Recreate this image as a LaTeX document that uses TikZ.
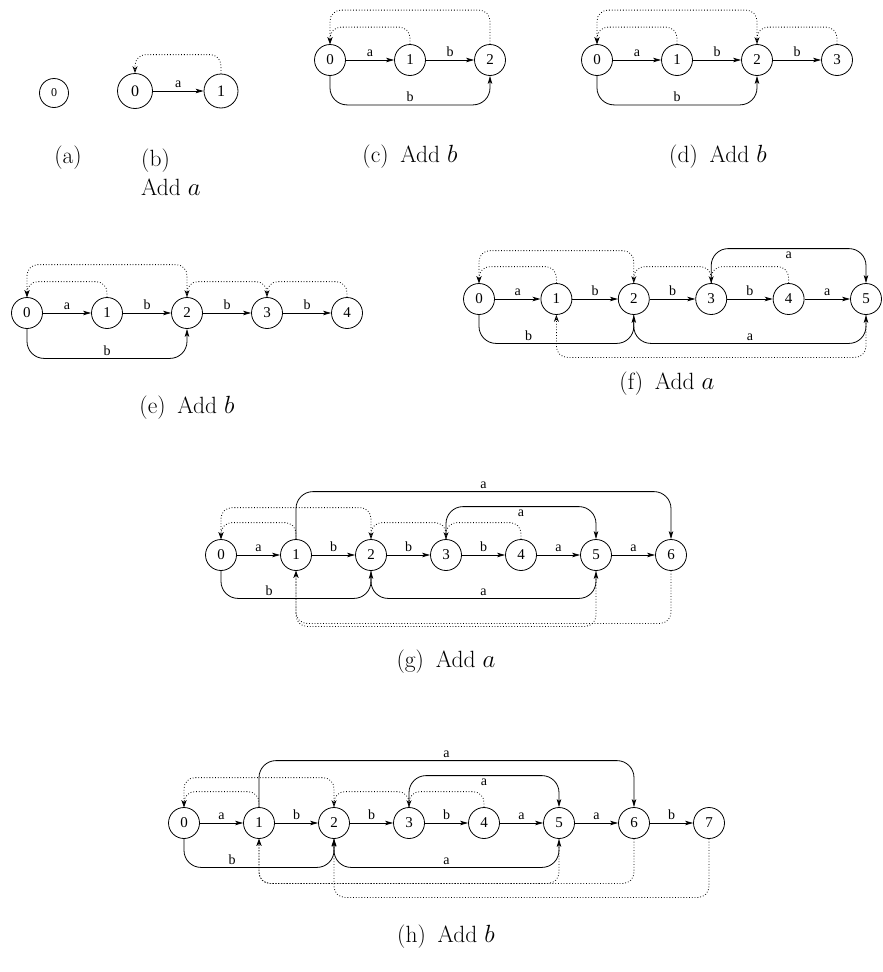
\documentclass[tikz,border=0pt]{standalone}
\usepackage{fontspec}
\usepackage{amsmath}
\usetikzlibrary{arrows.meta,positioning}
\newfontfamily\figfont{Liberation Serif}

\begin{document}
\begin{tikzpicture}[x=1pt, y=-1pt, node distance=75pt,
    state/.style={circle, draw, line width=0.8pt, minimum size=31pt, inner sep=0pt, font=\figfont\fontsize{15}{15}\selectfont},
    lab/.style={font=\figfont\fontsize{14}{14}\selectfont, inner sep=2.5pt},
    line/.style={draw, line width=0.8pt, rounded corners=17pt, -{Stealth[length=8pt, width=4.5pt, inset=2pt]}},
    link/.style={draw, dotted, line width=0.8pt, rounded corners=11pt, -{Stealth[open, length=7pt, width=5pt]}},
    caption/.style={font=\fontsize{23.5}{29}\selectfont, inner sep=0pt}]

    \useasboundingbox (0,0) rectangle (883,972);

    % (a) empty oracle
    \node [state, minimum size=29pt, font=\figfont\fontsize{12}{12}\selectfont] (a0) at (54,93) {0};
    \node [caption] (acap) at (68,158) {(a)};

    % (b) Add a
    \node [state, minimum size=35pt, font=\figfont\fontsize{16}{16}\selectfont] (b0) at (135,91) {0};
    \node [state, minimum size=34pt, font=\figfont\fontsize{16}{16}\selectfont, right of=b0, node distance=86pt] (b1) {1};
    \path [line] (b0) -- node [lab, above] {a} (b1);
    \path [link] (b1.north) -- ++(0,-19) -| (b0.north);
    \node [caption, align=left, anchor=west] (bcap) at (141,172) {(b)\\Add $a$};

    % (c) Add b
    \begin{scope}[node distance=80pt]
    \node [state] (c0) at (330,60) {0};
    \node [state, right of=c0] (c1) {1};
    \node [state, right of=c1] (c2) {2};
    \path [line] (c0) -- node [lab, above] {a} (c1);
    \path [line] (c1) -- node [lab, above] {b} (c2);
    \path [line] (c0.south) -- ++(0,29) -| node [lab, above, pos=0.25] {b} (c2.south);
    \path [link] (c1.north) -- ++(0,-17) -| (c0.north);
    \path [link] (c2.north) -- ++(0,-34) -| (c0.north);
    \node [caption] (ccap) at (410,157) {(c)\hspace{0.5em}Add~$b$};
    \end{scope}

    % (d) Add b
    \begin{scope}[node distance=80pt]
    \node [state] (d0) at (597,60) {0};
    \node [state, right of=d0] (d1) {1};
    \node [state, right of=d1] (d2) {2};
    \node [state, right of=d2] (d3) {3};
    \path [line] (d0) -- node [lab, above] {a} (d1);
    \path [line] (d1) -- node [lab, above] {b} (d2);
    \path [line] (d2) -- node [lab, above] {b} (d3);
    \path [line] (d0.south) -- ++(0,29) -| node [lab, above, pos=0.25] {b} (d2.south);
    \path [link] (d1.north) -- ++(0,-17) -| (d0.north);
    \path [link] (d2.north) -- ++(0,-34) -| (d0.north);
    \path [link] (d3.north) -- ++(0,-17) -| (d2.north);
    \node [caption] (dcap) at (718,157) {(d)\hspace{0.5em}Add~$b$};
    \end{scope}

    % (e) Add b
    \begin{scope}[node distance=80pt]
    \node [state] (e0) at (27,313) {0};
    \node [state, right of=e0] (e1) {1};
    \node [state, right of=e1] (e2) {2};
    \node [state, right of=e2] (e3) {3};
    \node [state, right of=e3] (e4) {4};
    \path [line] (e0) -- node [lab, above] {a} (e1);
    \path [line] (e1) -- node [lab, above] {b} (e2);
    \path [line] (e2) -- node [lab, above] {b} (e3);
    \path [line] (e3) -- node [lab, above] {b} (e4);
    \path [line] (e0.south) -- ++(0,29.5) -| node [lab, above, pos=0.25] {b} (e2.south);
    \path [link] (e1.north) -- ++(0,-15.5) -| (e0.north);
    \path [link] (e2.north) -- ++(0,-32.5) -| (e0.north);
    \path [link] (e3.north) -- ++(0,-15.5) -| (e2.north);
    \path [link] (e4.north) -- ++(0,-15.5) -| (e3.north);
    \node [caption] (ecap) at (187,408) {(e)\hspace{0.5em}Add~$b$};
    \end{scope}

    % (f) Add a
    \begin{scope}[node distance=77.4pt]
    \node [state] (f0) at (479,299) {0};
    \node [state, right of=f0] (f1) {1};
    \node [state, right of=f1] (f2) {2};
    \node [state, right of=f2] (f3) {3};
    \node [state, right of=f3] (f4) {4};
    \node [state, right of=f4] (f5) {5};
    \path [line] (f0) -- node [lab, above] {a} (f1);
    \path [line] (f1) -- node [lab, above] {b} (f2);
    \path [line] (f2) -- node [lab, above] {b} (f3);
    \path [line] (f3) -- node [lab, above] {b} (f4);
    \path [line] (f4) -- node [lab, above] {a} (f5);
    \path [line] (f0.south) -- ++(0,28.5) -| node [lab, above, pos=0.16] {b} (f2.south);
    \path [line] (f2.south) -- ++(0,28.5) -| node [lab, above, pos=0.25] {a} (f5.south);
    \path [line] (f3.north) -- ++(0,-34.5) -| node [lab, below, pos=0.25] {a} (f5.north);
    \path [link] (f1.north) -- ++(0,-16.5) -| (f0.north);
    \path [link] (f2.north) -- ++(0,-32.5) -| (f0.north);
    \path [link] (f3.north) -- ++(0,-16.5) -| (f2.north);
    \path [link] (f4.north) -- ++(0,-16.5) -| (f3.north);
    \path [link] (f5.south) -- ++(0,42.5) -| (f1.south);
    \node [caption] (fcap) at (667,384) {(f)\hspace{0.5em}Add~$a$};
    \end{scope}

    % (g) Add a
    \node [state] (g0) at (221,555) {0};
    \node [state, right of=g0] (g1) {1};
    \node [state, right of=g1] (g2) {2};
    \node [state, right of=g2] (g3) {3};
    \node [state, right of=g3] (g4) {4};
    \node [state, right of=g4] (g5) {5};
    \node [state, right of=g5] (g6) {6};
    \path [line] (g0) -- node [lab, above] {a} (g1);
    \path [line] (g1) -- node [lab, above] {b} (g2);
    \path [line] (g2) -- node [lab, above] {b} (g3);
    \path [line] (g3) -- node [lab, above] {b} (g4);
    \path [line] (g4) -- node [lab, above] {a} (g5);
    \path [line] (g5) -- node [lab, above] {a} (g6);
    \path [line] (g0.south) -- ++(0,27.5) -| node [lab, above, pos=0.16] {b} (g2.south);
    \path [line] (g2.south) -- ++(0,27.5) -| node [lab, above, pos=0.25] {a} (g5.south);
    \path [line] (g3.north) -- ++(0,-32.5) -| node [lab, below, pos=0.25] {a} (g5.north);
    \path [line] (g1.north) -- ++(0,-47.5) -| node [lab, above, pos=0.25] {a} (g6.north);
    \path [link] (g1.north) -- ++(0,-16.5) -| (g0.north);
    \path [link] (g2.north) -- ++(0,-31.5) -| (g0.north);
    \path [link] (g3.north) -- ++(0,-16.5) -| (g2.north);
    \path [link] (g4.north) -- ++(0,-16.5) -| (g3.north);
    \path [link] (g5.south) -- ++(0,55.5) -| (g1.south);
    \path [link] (g6.south) -- ++(0,52.5) -| (g1.south);
    \node [caption] (gcap) at (446,662) {(g)\hspace{0.5em}Add~$a$};

    % (h) Add b
    \node [state] (h0) at (184,823) {0};
    \node [state, right of=h0] (h1) {1};
    \node [state, right of=h1] (h2) {2};
    \node [state, right of=h2] (h3) {3};
    \node [state, right of=h3] (h4) {4};
    \node [state, right of=h4] (h5) {5};
    \node [state, right of=h5] (h6) {6};
    \node [state, right of=h6] (h7) {7};
    \path [line] (h0) -- node [lab, above] {a} (h1);
    \path [line] (h1) -- node [lab, above] {b} (h2);
    \path [line] (h2) -- node [lab, above] {b} (h3);
    \path [line] (h3) -- node [lab, above] {b} (h4);
    \path [line] (h4) -- node [lab, above] {a} (h5);
    \path [line] (h5) -- node [lab, above] {a} (h6);
    \path [line] (h6) -- node [lab, above] {b} (h7);
    \path [line] (h0.south) -- ++(0,28.5) -| node [lab, above, pos=0.16] {b} (h2.south);
    \path [line] (h2.south) -- ++(0,28.5) -| node [lab, above, pos=0.25] {a} (h5.south);
    \path [line] (h3.north) -- ++(0,-31.5) -| node [lab, below, pos=0.25] {a} (h5.north);
    \path [line] (h1.north) -- ++(0,-46.5) -| node [lab, above, pos=0.25] {a} (h6.north);
    \path [link] (h1.north) -- ++(0,-15.5) -| (h0.north);
    \path [link] (h2.north) -- ++(0,-29.5) -| (h0.north);
    \path [link] (h3.north) -- ++(0,-15.5) -| (h2.north);
    \path [link] (h4.north) -- ++(0,-15.5) -| (h3.north);
    \path [link] (h5.south) -- ++(0,44.5) -| (h1.south);
    \path [link] (h6.south) -- ++(0,44.5) -| (h1.south);
    \path [link] (h7.south) -- ++(0,58.5) -| (h2.south);
    \node [caption] (hcap) at (446,937) {(h)\hspace{0.5em}Add~$b$};

\end{tikzpicture}
\end{document}
